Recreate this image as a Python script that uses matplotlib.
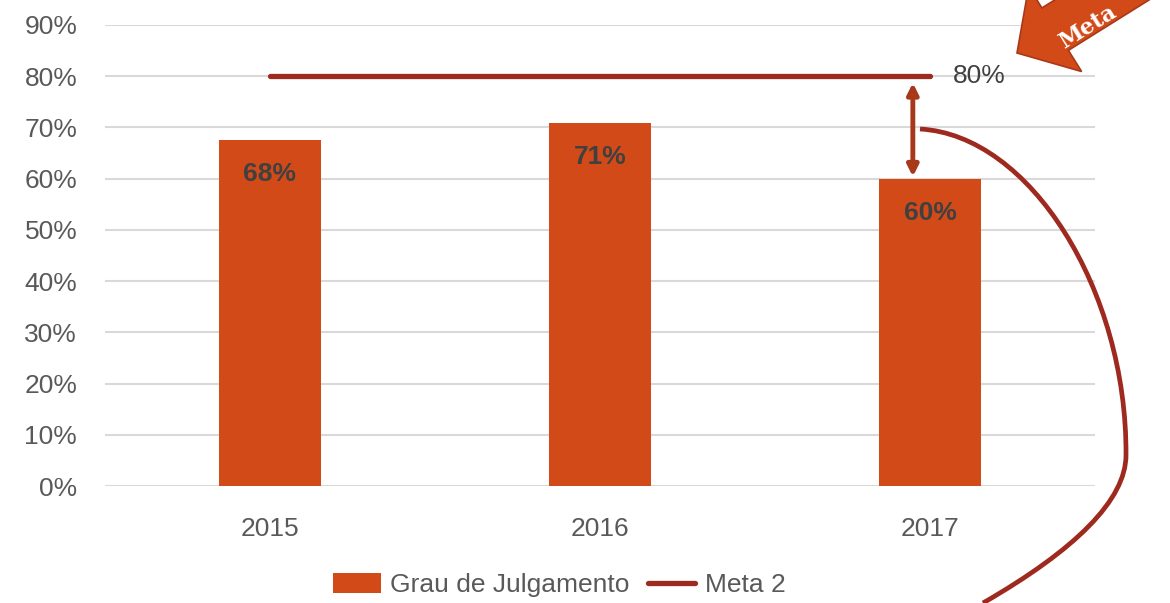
import matplotlib
matplotlib.use('Agg')
import matplotlib.pyplot as plt
from matplotlib.path import Path
from matplotlib.patches import PathPatch, Polygon, Patch
from matplotlib.lines import Line2D
import numpy as np

anos = ['2015', '2016', '2017']
grau = [0.676, 0.709, 0.60]
rotulos = ['68%', '71%', '60%']
meta = [0.80, 0.80, 0.80]
yticks = [0.0, 0.1, 0.2, 0.3, 0.4, 0.5, 0.6, 0.7, 0.8, 0.9]

laranja = '#D24A17'
vermelho = '#9E2A1F'
cinza = '#595959'

plt.rcParams['font.family'] = ['Liberation Sans', 'DejaVu Sans']

fig = plt.figure(figsize=(11.7, 6.03), dpi=100)
ax = fig.add_axes([105 / 1170, 1 - 486 / 603, 990 / 1170, 461 / 603])

x = np.arange(len(anos))
ax.bar(x, grau, width=0.31, color=laranja, zorder=2)
ax.plot(x, meta, color=vermelho, lw=3.8, solid_capstyle='round', zorder=3)

for xi, v, r in zip(x, grau, rotulos):
    ax.text(xi, v - 0.067, r, ha='center', va='center', fontsize=19,
            fontweight='bold', color='#404040', zorder=4)

ax.text(x[-1] + 0.07, meta[-1], '80%', ha='left', va='center', fontsize=19, color='#404040')

# seta dupla entre a meta e 2017
xs = x[-1] - 0.052
ax.annotate('', xy=(xs, grau[-1] + 0.004), xytext=(xs, meta[-1] - 0.013),
            arrowprops=dict(arrowstyle='<|-|>', facecolor=laranja, edgecolor='#A8381A', lw=3.5,
                            mutation_scale=16, shrinkA=0, shrinkB=0), zorder=5)

ax.set_xlim(-0.5, 2.5)
ax.set_ylim(0, 0.9)
ax.set_xticks(x)
ax.set_xticklabels(anos)
ax.set_yticks(yticks)
ax.set_yticklabels([f'{int(round(t * 100))}%' for t in yticks])
ax.tick_params(length=0, labelsize=19, colors=cinza)
ax.tick_params(axis='y', pad=20)
ax.tick_params(axis='x', pad=22)
ax.grid(axis='y', color='#D9D9D9', lw=1.5, zorder=0)
ax.set_axisbelow(True)
for s in ax.spines.values():
    s.set_visible(False)

# curva decorativa (em pixels da imagem)
def px(p):
    return (p[0] / 100, (603 - p[1]) / 100)

pts = [(920, 129), (1030, 135), (1127, 290), (1126, 455),
       (1126, 500), (1075, 550), (983, 603)]
codes = [Path.MOVETO] + [Path.CURVE4] * 6
curva = PathPatch(Path([px(p) for p in pts], codes), fill=False, edgecolor=vermelho,
                  lw=3.4, transform=fig.dpi_scale_trans, clip_on=False)
fig.patches.append(curva)

# seta "Meta" no canto
ang = np.deg2rad(32)
d = np.array([np.cos(ang), -np.sin(ang)])
n = np.array([np.sin(ang), np.cos(ang)])
T = np.array([1017, 53])
L, hw, sw, comp = 45, 50, 25, 220
seta = [T, T + L * d - hw * n, T + L * d - sw * n, T + comp * d - sw * n,
        T + comp * d + sw * n, T + L * d + sw * n, T + L * d + hw * n]
poly = Polygon([px(p) for p in seta], closed=True, facecolor=laranja, edgecolor='#A8381A',
               lw=1.2, transform=fig.dpi_scale_trans, clip_on=False)
fig.patches.append(poly)
fig.text(1088 / 1170, 1 - 27 / 603, 'Meta', rotation=32, ha='center', va='center',
         fontsize=16, color='white', family='DejaVu Serif', fontweight='bold')

handles = [Patch(facecolor=laranja), Line2D([0], [0], color=vermelho, lw=3.8, solid_capstyle='round')]
fig.legend(handles, ['Grau de Julgamento', 'Meta 2'], loc='center', bbox_to_anchor=(0.478, 1 - 585 / 603),
           ncol=2, frameon=False, fontsize=19, labelcolor=cinza, handlelength=1.8,
           handletextpad=0.35, columnspacing=0.7, handleheight=0.8)

fig.savefig('out.png', dpi=100)
